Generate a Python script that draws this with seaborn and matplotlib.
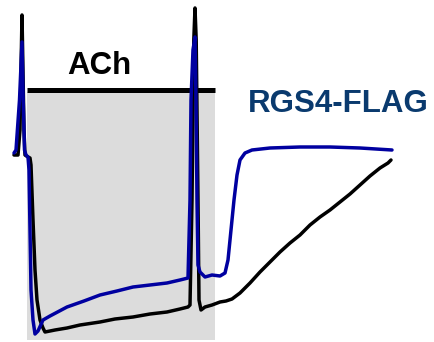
import matplotlib
matplotlib.use("Agg")
import matplotlib.pyplot as plt
import seaborn as sns
import pandas as pd
from matplotlib.patches import Rectangle

# time (arbitrary units, left->right) and response (arbitrary, top = high)
ctrl_t = [14, 18, 20, 21.2, 22, 22.8, 24, 25, 28, 30, 31, 33, 35, 37, 40, 43, 45, 55, 67, 80, 100, 115, 133, 150,
          167, 180, 188, 190, 192, 193.8, 195, 196.2, 198, 199, 201, 205, 212, 220, 226, 232, 240, 250, 260, 270,
          280, 290, 300, 310, 320, 330, 340, 350, 360, 370, 380, 388, 391]
ctrl_y = [155, 155, 130, 60, 15, 60, 130, 155, 157, 158, 165, 220, 270, 300, 320, 328, 332, 330, 328, 325, 322,
          319, 317, 314, 312, 309, 307, 305, 200, 40, 8, 40, 200, 300, 310, 307, 305, 302, 301, 299, 293, 283, 272,
          262, 252, 243, 235, 225, 217, 210, 202, 194, 185, 176, 168, 163, 160]

rgs_t = [14, 16, 19.5, 22, 23.2, 24.5, 26, 28, 29, 30, 31, 33, 35, 38, 43, 50, 67, 84, 100, 117, 133, 150, 167,
         180, 188, 190, 191, 193, 195, 196, 197, 198, 200, 205, 212, 220, 225, 228, 231, 234, 237, 240, 245, 252,
         270, 300, 330, 360, 392]
rgs_y = [153, 150, 100, 42, 100, 150, 155, 157, 170, 230, 290, 320, 334, 331, 320, 316, 307, 301, 295, 291, 287,
         285, 283, 280, 278, 200, 100, 50, 37, 100, 200, 265, 272, 277, 275, 276, 273, 260, 230, 200, 175, 160,
         153, 150, 148, 147, 147, 148, 150]

stim_label = "ACh"
series_label = "RGS4-FLAG"
stim_on, stim_off = 27, 215

ctrl = pd.DataFrame({"t": ctrl_t, "y": ctrl_y})
rgs = pd.DataFrame({"t": rgs_t, "y": rgs_y})

sns.set_style("white")
plt.rcParams["font.family"] = ["Liberation Sans", "DejaVu Sans"]

fig = plt.figure(figsize=(4.34, 3.42), dpi=100)
ax = fig.add_axes([0, 0, 1, 1])

ax.add_patch(Rectangle((stim_on, 92), stim_off - stim_on, 248, facecolor="#dcdcdc", edgecolor="none", zorder=0))
ax.plot([stim_on, stim_off], [90, 90], color="black", lw=3.6, solid_capstyle="butt", zorder=1)

sns.lineplot(data=ctrl, x="t", y="y", ax=ax, color="black", lw=2.5, estimator=None, sort=False, zorder=2)
sns.lineplot(data=rgs, x="t", y="y", ax=ax, color="#0000a0", lw=2.5, estimator=None, sort=False, zorder=3)
for ln in ax.lines:
    ln.set_solid_joinstyle("round")

ax.set_xlim(0, 434)
ax.set_ylim(342, 0)
ax.axis("off")

ax.text(99, 66, stim_label, ha="center", va="center", fontsize=22.5, fontweight="bold", color="black")
ax.text(338, 104, series_label, ha="center", va="center", fontsize=22.5, fontweight="bold", color="#0a3a6e")

fig.savefig("out.png", dpi=100)
